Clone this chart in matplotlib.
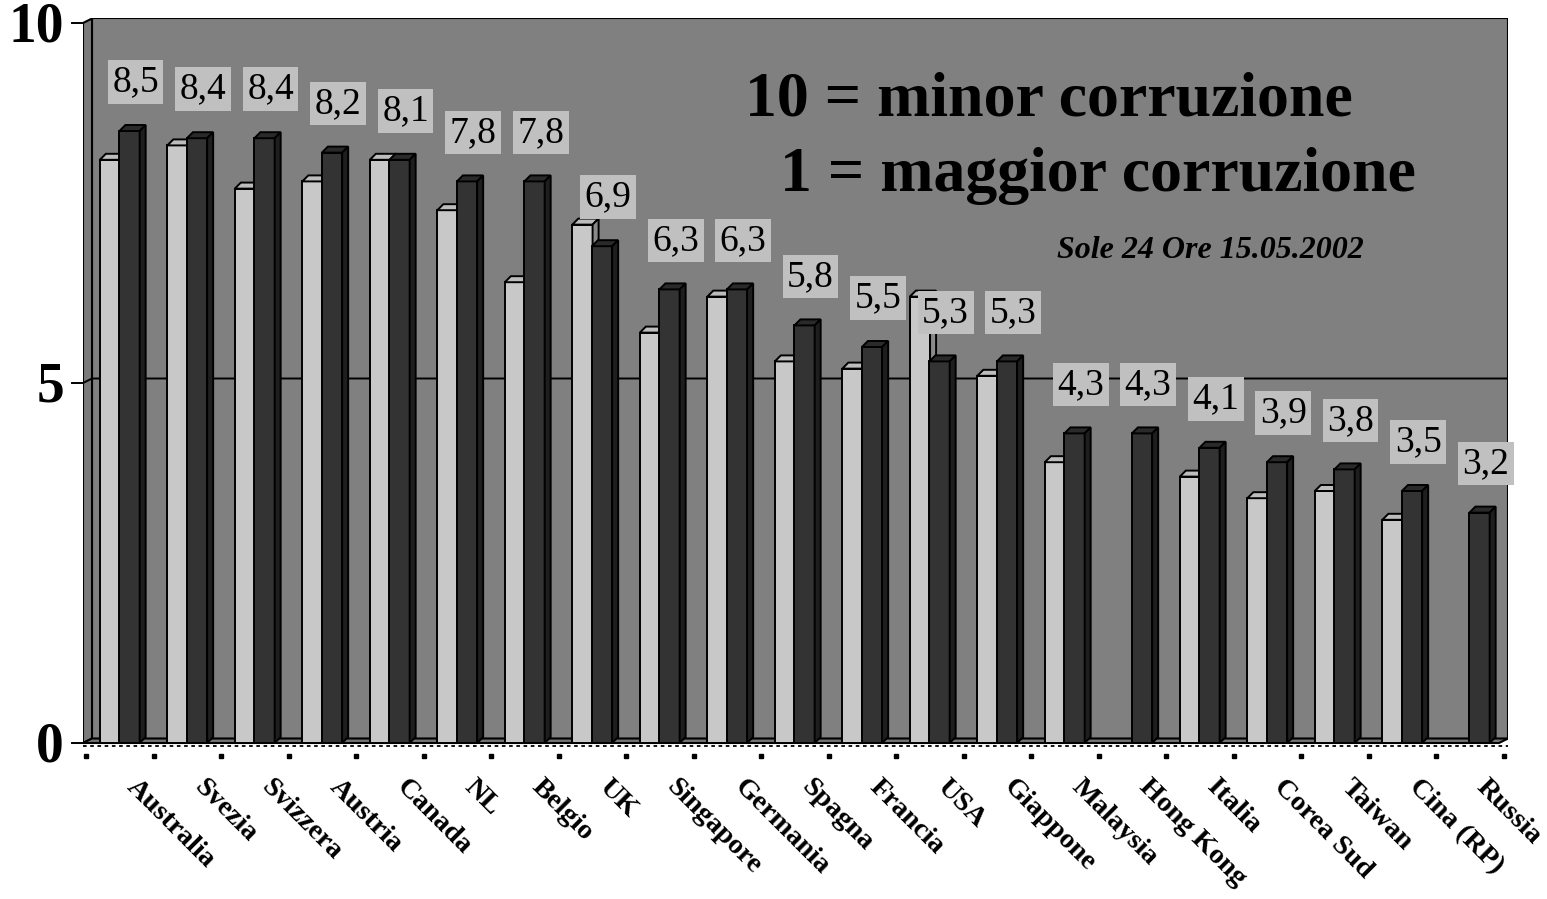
import numpy as np
import matplotlib
matplotlib.use("Agg")
import matplotlib.pyplot as plt
from matplotlib.patches import Polygon

# Indice di percezione della corruzione (Sole 24 Ore 15.05.2002)
countries = ["Australia", "Svezia", "Svizzera", "Austria", "Canada", "NL", "Belgio",
             "UK", "Singapore", "Germania", "Spagna", "Francia", "USA", "Giappone",
             "Malaysia", "Hong Kong", "Italia", "Corea Sud", "Taiwan", "Cina (RP)", "Russia"]
prev_year = [8.1, 8.3, 7.7, 7.8, 8.1, 7.4, 6.4, 7.2, 5.7, 6.2, 5.3, 5.2, 6.2, 5.1,
             3.9, np.nan, 3.7, 3.4, 3.5, 3.1, np.nan]
score_2002 = [8.5, 8.4, 8.4, 8.2, 8.1, 7.8, 7.8, 6.9, 6.3, 6.3, 5.8, 5.5, 5.3, 5.3,
              4.3, 4.3, 4.1, 3.9, 3.8, 3.5, 3.2]
yticks = [0, 5, 10]

plt.rcParams['font.family'] = ['Liberation Serif', 'DejaVu Serif']

W, H = 1547, 899
fig = plt.figure(figsize=(W / 100, H / 100), dpi=100)
fig.patch.set_facecolor('white')

# axes placed in pixel terms: x px = 86 + 67.5*(x+0.5), y px = 743 - 72*y
ax = fig.add_axes([83 / W, 1 - 750 / H, (1508 - 83) / W, (750 - 18) / H])
xL, xR = (83 - 86) / 67.5 - 0.5, (1508 - 86) / 67.5 - 0.5
ax.set_xlim(xL, xR)
ax.set_ylim(-7 / 72, (743 - 18) / 72)
ax.axis('off')

wall = '#808080'
dxw, dyw = 9 / 67.5, 4.5 / 72
ytop = 10 + dyw

# back wall, left wall, floor
ax.add_patch(Polygon([(xL + dxw, dyw), (xR, dyw), (xR, ytop), (xL + dxw, ytop)],
                     fc=wall, ec='black', lw=1.5, zorder=1))
ax.add_patch(Polygon([(xL, 0), (xL + dxw, dyw), (xL + dxw, ytop), (xL, 10)],
                     fc='#7a7a7a', ec='black', lw=1.5, zorder=1))
ax.add_patch(Polygon([(xL, 0), (xR - dxw, 0), (xR, dyw), (xL + dxw, dyw)],
                     fc='#747474', ec='black', lw=1.5, zorder=1))
# gridline at 5
ax.plot([xL, xL + dxw, xR], [5, 5 + dyw, 5 + dyw], color='black', lw=1.4, zorder=1.5)

dx, dy = 6 / 67.5, 6 / 72
bw = 0.3


def bar3d(x0, h, front, top, side, z):
    kw = dict(ec='black', lw=1.4, zorder=z, joinstyle='miter')
    ax.add_patch(Polygon([(x0, 0), (x0 + bw, 0), (x0 + bw, h), (x0, h)], fc=front, **kw))
    ax.add_patch(Polygon([(x0, h), (x0 + bw, h), (x0 + bw + dx, h + dy), (x0 + dx, h + dy)],
                         fc=top, **kw))
    ax.add_patch(Polygon([(x0 + bw, 0), (x0 + bw + dx, dy), (x0 + bw + dx, h + dy), (x0 + bw, h)],
                         fc=side, **kw))


z = 2
for i in range(len(countries)):
    if not np.isnan(prev_year[i]):
        bar3d(i - 0.295, prev_year[i], '#c8c8c8', '#bdbdbd', '#8a8a8a', z)
    z += 0.01
    bar3d(i - 0.005, score_2002[i], '#333333', '#2a2a2a', '#1e1e1e', z)
    z += 0.01
    ax.text(i + 0.145 + 0.09, score_2002[i] + 0.68, f"{score_2002[i]:.1f}".replace('.', ','),
            ha='center', va='center', fontsize=27, color='black', zorder=10,
            bbox=dict(boxstyle='square,pad=0.12', fc='#c0c0c0', ec='none'))

# y axis ticks and labels
for v in yticks:
    ax.plot([xL - 11 / 67.5, xL], [v, v], color='black', lw=1.4, clip_on=False)
    ax.text(xL - 19 / 67.5, v - 0.06, str(v), ha='right', va='center', fontsize=40,
            fontweight='bold', clip_on=False)

# x axis: dotted line and tick dots
ax.plot([xL, xR], [-2.7 / 72, -2.7 / 72], color='black', lw=1.3,
        linestyle=(0, (2, 2)), clip_on=False)
bounds = np.arange(len(countries) + 1) - 0.5
ax.plot(bounds, np.full(len(bounds), -13 / 72), linestyle='none', marker='s',
        ms=2.2, color='black', clip_on=False)

for i, name in enumerate(countries):
    ax.text(i + 0.09, -0.62, name, rotation=-45, rotation_mode='anchor',
            ha='left', va='baseline', fontsize=20.5, fontweight='bold', clip_on=False)

fig.text(745 / W, 1 - 116 / H, "10 = minor corruzione", ha='left', va='baseline',
         fontsize=46, fontweight='bold')
fig.text(780 / W, 1 - 191 / H, "1 = maggior corruzione", ha='left', va='baseline',
         fontsize=46, fontweight='bold')
fig.text(1210 / W, 1 - 250 / H, "Sole 24 Ore 15.05.2002", ha='center', va='center',
         fontsize=23, fontweight='bold', fontstyle='italic')

fig.savefig('out.png', dpi=100)
